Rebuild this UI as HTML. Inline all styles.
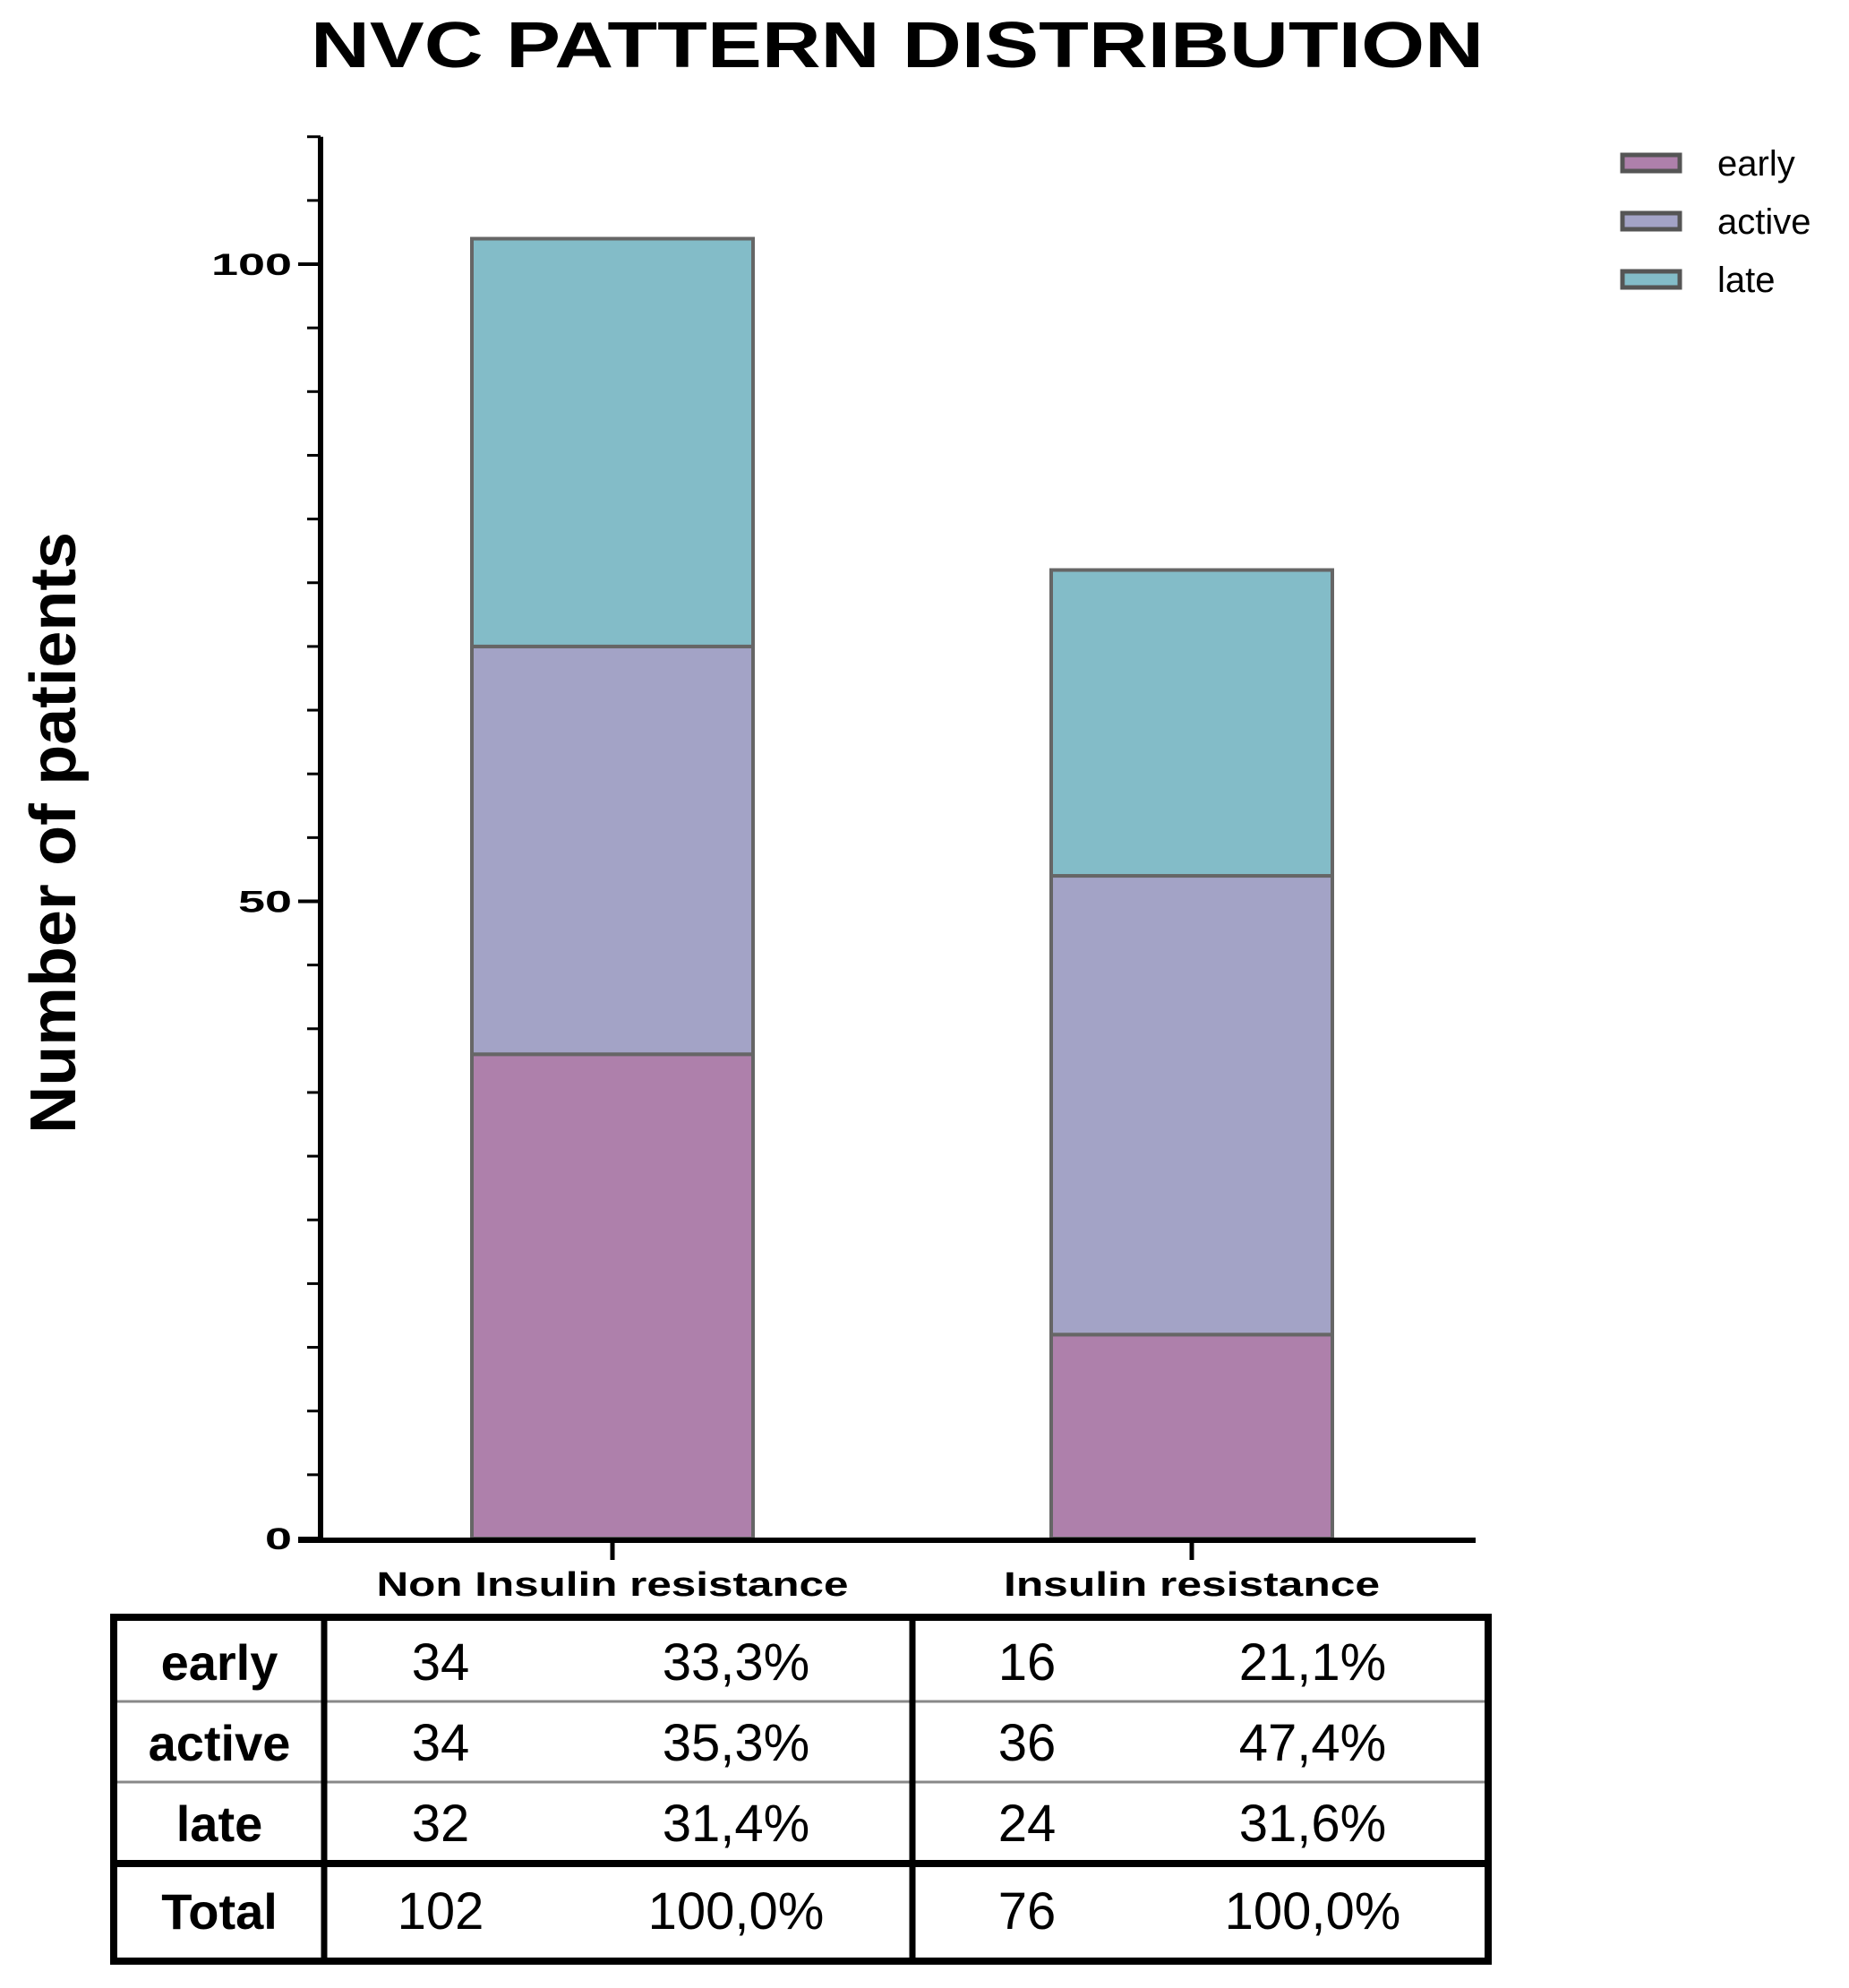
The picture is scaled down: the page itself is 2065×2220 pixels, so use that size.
<!DOCTYPE html>
<html><head><meta charset="utf-8"><style>
html,body{margin:0;padding:0;background:#fff;}
svg{display:block;font-family:"Liberation Sans",Arial,sans-serif;}
</style></head><body>
<svg id="chart" width="2065" height="2220" viewBox="0 0 2065 2220">
<text x="1002" y="75" text-anchor="middle" font-size="72" font-weight="bold" textLength="1310" lengthAdjust="spacingAndGlyphs">NVC PATTERN DISTRIBUTION</text>
<text transform="translate(84,930) rotate(-90)" text-anchor="middle" font-size="72" font-weight="bold" textLength="672" lengthAdjust="spacingAndGlyphs">Number of patients</text>
<g id="bars"></g>
<g id="axes"></g>
<g id="legend"></g>
<g id="table"></g>
</svg>
<script>
const categories = ["Non Insulin resistance", "Insulin resistance"];
const seriesNames = ["early", "active", "late"];
const earlyVals = [38, 16];
const activeVals = [32, 36];
const lateVals = [32, 24];
const yTicks = [0, 50, 100];
const yTickLabels = ["0", "50", "100"];
const yMax = 110;
const tableCounts = [[34, 34, 32, 102], [16, 36, 24, 76]];
const tablePct = [["33,3%", "35,3%", "31,4%", "100,0%"], ["21,1%", "47,4%", "31,6%", "100,0%"]];
const rowLabels = ["early", "active", "late", "Total"];

const NS = "http://www.w3.org/2000/svg";
const colors = ["#ae80ab", "#a3a3c6", "#83bcc8"];
const y0 = 1718, yUnit = (1718 - 295) / 100;
const yScale = v => y0 - v * yUnit;
const catCenters = [684, 1331];
const barW = 314;
const axisX = 358;
function mk(tag, attrs, parent, txt) {
  const e = document.createElementNS(NS, tag);
  for (const k in attrs) e.setAttribute(k, attrs[k]);
  if (txt !== undefined) e.textContent = txt;
  parent.appendChild(e);
  return e;
}
const series = [earlyVals, activeVals, lateVals];
const gb = document.getElementById("bars");
categories.forEach((c, i) => {
  let base = 0;
  series.forEach((s, j) => {
    const v = s[i];
    const r = mk("rect", {x: catCenters[i] - barW / 2, y: yScale(base + v), width: barW, height: v * yUnit, fill: colors[j], stroke: "#666", "stroke-width": 4}, gb);
    
    
    base += v;
  });
});
const ga = document.getElementById("axes");
let yl = mk("line", {x1: axisX, y1: yScale(yMax), x2: axisX, y2: y0 + 3, stroke: "#000", "stroke-width": 6}, ga);


for (let v = 0; v <= yMax; v += 5) {
  const major = yTicks.includes(v);
  const t = mk("line", {x1: major ? axisX - 25 : axisX - 15, y1: yScale(v), x2: axisX, y2: yScale(v), stroke: "#000", "stroke-width": major ? 4 : 3}, ga);
  
  
}
yTicks.forEach((v, k) => {
  const lab = yTickLabels[k];
  const t = mk("text", {x: axisX - 32, y: yScale(v) + 12, "text-anchor": "end", "font-size": 34, "font-weight": "bold", textLength: 30 * lab.length, lengthAdjust: "spacingAndGlyphs"}, ga, lab);
  
  
});
let xl = mk("line", {x1: axisX - 25, y1: y0 + 2, x2: 1648, y2: y0 + 2, stroke: "#000", "stroke-width": 6}, ga);


const labLen = [527, 420];
categories.forEach((c, i) => {
  const t = mk("line", {x1: catCenters[i], y1: y0, x2: catCenters[i], y2: y0 + 24, stroke: "#000", "stroke-width": 5}, ga);
  
  
  const l = mk("text", {x: catCenters[i], y: 1782, "text-anchor": "middle", "font-size": 38, "font-weight": "bold", textLength: labLen[i], lengthAdjust: "spacingAndGlyphs"}, ga, c);
  
  
});
const gl = document.getElementById("legend");
seriesNames.forEach((n, j) => {
  const y = 182 + j * 65;
  const r = mk("rect", {x: 1812, y: y - 9, width: 64, height: 18, fill: colors[j], stroke: "#555", "stroke-width": 5}, gl);
  
  
  const t = mk("text", {x: 1918, y: y + 14, "font-size": 40}, gl, n);
  
  
});
const gt = document.getElementById("table");
const rowY = [1856, 1946, 2036, 2134];
const colX = [[492, 822], [1147, 1466]];
[1900, 1990].forEach(y => {
  const l = mk("line", {x1: 124, y1: y, x2: 1665, y2: y, stroke: "#888", "stroke-width": 3}, gt);
  
  
});
let tl = mk("line", {x1: 124, y1: 2081, x2: 1665, y2: 2081, stroke: "#000", "stroke-width": 8}, gt);


[362, 1019].forEach(x => {
  const l = mk("line", {x1: x, y1: 1806, x2: x, y2: 2188, stroke: "#000", "stroke-width": 7}, gt);
  
  
});
let ob = mk("rect", {x: 127, y: 1806, width: 1535, height: 384, fill: "none", stroke: "#000", "stroke-width": 8}, gt);


rowLabels.forEach((r, i) => {
  const t = mk("text", {x: 245, y: rowY[i] + 20, "text-anchor": "middle", "font-size": 56, "font-weight": "bold"}, gt, r);
  
  
  [0, 1].forEach(g => {
    const a = mk("text", {x: colX[g][0], y: rowY[i] + 20, "text-anchor": "middle", "font-size": 58}, gt, String(tableCounts[g][i]));
    
    
    const b = mk("text", {x: colX[g][1], y: rowY[i] + 20, "text-anchor": "middle", "font-size": 58}, gt, tablePct[g][i]);
    
    
  });
});
</script>
</body></html>
